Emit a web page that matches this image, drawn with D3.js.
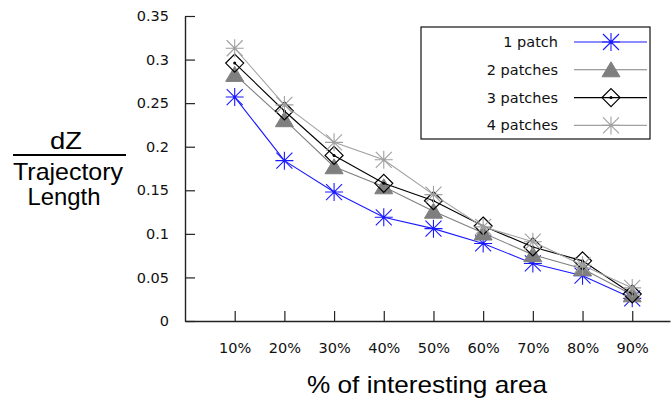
<!DOCTYPE html>
<html>
<head>
<meta charset="utf-8">
<script src="https://cdn.jsdelivr.net/npm/d3@7"></script>
<style>
  html, body { margin: 0; padding: 0; background: #fff; }
  svg { display: block; }
</style>
</head>
<body>
<svg id="chart" width="671" height="400"></svg>
<script>
const categories = ["10%", "20%", "30%", "40%", "50%", "60%", "70%", "80%", "90%"];
const seriesNames = ["1 patch", "2 patches", "3 patches", "4 patches"];
const onePatch = [0.257, 0.184, 0.148, 0.119, 0.106, 0.089, 0.066, 0.052, 0.026];
const twoPatches = [0.283, 0.231, 0.177, 0.154, 0.126, 0.101, 0.076, 0.060, 0.030];
const threePatches = [0.296, 0.241, 0.190, 0.158, 0.138, 0.109, 0.085, 0.069, 0.031];
const fourPatches = [0.313, 0.248, 0.205, 0.185, 0.145, 0.108, 0.091, 0.064, 0.038];
const yTicks = [0, 0.05, 0.1, 0.15, 0.2, 0.25, 0.3, 0.35];

const svg = d3.select("#chart");

const x = d3.scaleLinear().domain([0, 9.76]).range([185, 670]);
const y = d3.scaleLinear().domain([0, 0.35]).range([321, 16]);

const series = [
  { name: seriesNames[0], values: onePatch, color: "#1a1aff", marker: "star" },
  { name: seriesNames[1], values: twoPatches, color: "#7f7f7f", marker: "triangle" },
  { name: seriesNames[2], values: threePatches, color: "#000000", marker: "diamond" },
  { name: seriesNames[3], values: fourPatches, color: "#a0a0a0", marker: "star" }
];

// axes (ticks point inward, like gnuplot)
const yAxis = d3.axisLeft(y).tickValues(yTicks).tickFormat(d => d3.format("")(+d.toFixed(2)))
  .tickSizeInner(-10).tickSizeOuter(0).tickPadding(16);
const xAxis = d3.axisBottom(x).tickValues(d3.range(1, 10)).tickFormat(i => categories[i - 1])
  .tickSizeInner(-10).tickSizeOuter(0).tickPadding(22);

function styleAxis(g) {
  g.select(".domain").attr("stroke", "#222").attr("stroke-width", 1.4);
  g.selectAll(".tick line").attr("stroke", "#222").attr("stroke-width", 1.2);
  g.selectAll(".tick text").attr("fill", "#111")
    .style("font-family", "'DejaVu Sans', sans-serif").style("font-size", "14.5px");
}

svg.append("g").attr("transform", "translate(185,0)").call(yAxis).call(styleAxis);
svg.append("g").attr("transform", "translate(0,321)").call(xAxis).call(styleAxis);

// markers
function drawMarker(g, type, color, cx, cy) {
  if (type === "star") {
    const s = 9, d = 8;
    g.append("path")
      .attr("d", `M${cx - s},${cy}H${cx + s}M${cx},${cy - s}V${cy + s}` +
        `M${cx - d},${cy - d}L${cx + d},${cy + d}M${cx - d},${cy + d}L${cx + d},${cy - d}`)
      .attr("stroke", color).attr("stroke-width", 1.1).attr("fill", "none");
  } else if (type === "triangle") {
    g.append("path")
      .attr("d", `M${cx},${cy - 8}L${cx + 9},${cy + 7}L${cx - 9},${cy + 7}Z`)
      .attr("fill", color).attr("stroke", color).attr("stroke-width", 1);
  } else if (type === "diamond") {
    g.append("path")
      .attr("d", `M${cx},${cy - 9}L${cx + 9},${cy}L${cx},${cy + 9}L${cx - 9},${cy}Z`)
      .attr("fill", "none").attr("stroke", color).attr("stroke-width", 1.2);
  }
  g.append("circle").attr("cx", cx).attr("cy", cy).attr("r", 1.5).attr("fill", color);
}

const line = d3.line().x((d, i) => x(i + 1)).y(d => y(d));

series.forEach(s => {
  const g = svg.append("g");
  g.append("path").datum(s.values)
    .attr("d", line).attr("fill", "none")
    .attr("stroke", s.color).attr("stroke-width", 1.1);
  s.values.forEach((v, i) => drawMarker(g, s.marker, s.color, x(i + 1), y(v)));
});

// legend
const legend = svg.append("g");
legend.append("rect").attr("x", 421).attr("y", 27).attr("width", 229).attr("height", 112)
  .attr("fill", "#fff").attr("stroke", "#111").attr("stroke-width", 1.2);
series.forEach((s, i) => {
  const ly = 42 + i * 27.8;
  legend.append("text").attr("x", 558).attr("y", ly).attr("dy", "0.35em")
    .attr("text-anchor", "end").attr("fill", "#111")
    .style("font-family", "'DejaVu Sans', sans-serif").style("font-size", "14.5px")
    .text(s.name);
  legend.append("line").attr("x1", 574).attr("x2", 647).attr("y1", ly).attr("y2", ly)
    .attr("stroke", s.color).attr("stroke-width", 1.1);
  drawMarker(legend, s.marker, s.color, 611, ly);
});

// axis titles (slightly wide lettering in the original)
const titleFont = "'Liberation Sans', Arial, sans-serif";
function title(tx, ty, len, str) {
  svg.append("text").attr("x", tx).attr("y", ty).attr("text-anchor", "middle")
    .attr("textLength", len).attr("lengthAdjust", "spacingAndGlyphs")
    .style("font-family", titleFont).style("font-size", "24px").text(str);
}
title(66, 149, 32, "dZ");
svg.append("line").attr("x1", 13).attr("x2", 126).attr("y1", 155).attr("y2", 155)
  .attr("stroke", "#000").attr("stroke-width", 2);
title(68, 180, 110, "Trajectory");
title(64, 205, 73, "Length");
title(427, 393, 240, "% of interesting area");
</script>
</body>
</html>
